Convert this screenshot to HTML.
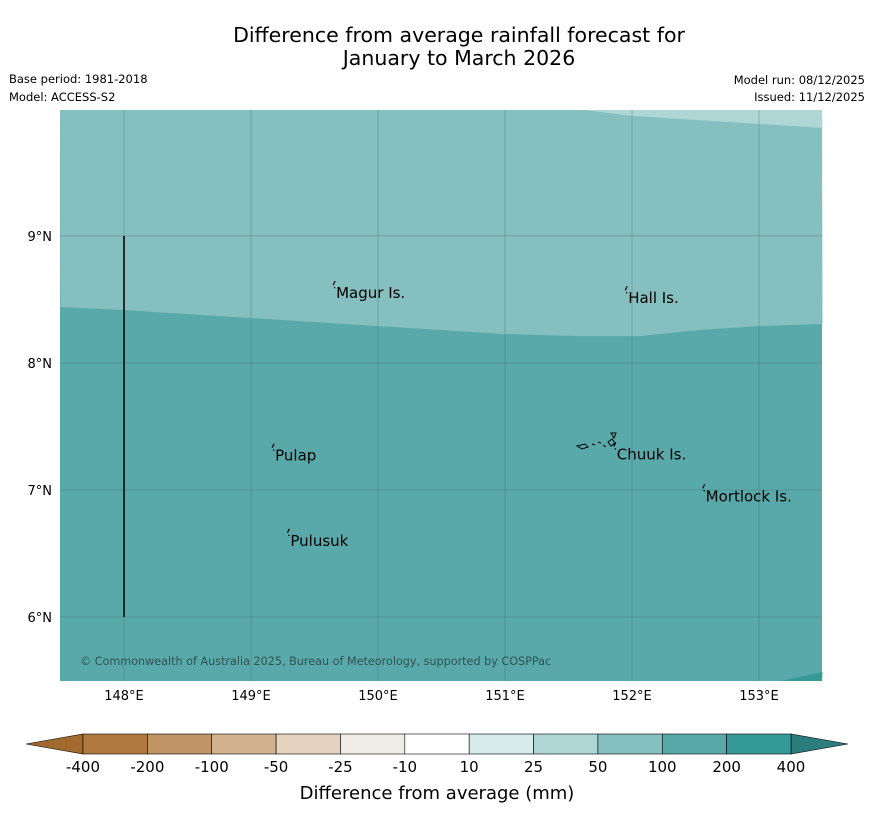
<!DOCTYPE html>
<html><head><meta charset="utf-8"><style>
body{margin:0;background:#fff;width:873px;height:816px;overflow:hidden;font-family:"Liberation Sans","DejaVu Sans",sans-serif}
svg text{font-family:"DejaVu Sans","Liberation Sans",sans-serif}
</style></head><body>
<svg id="chart" width="873" height="816" xmlns="http://www.w3.org/2000/svg">
<text x="459" y="42" font-size="20.5" text-anchor="middle">Difference from average rainfall forecast for</text>
<text x="459" y="65" font-size="20.5" text-anchor="middle">January to March 2026</text>
<text x="9" y="83" font-size="11.5">Base period: 1981-2018</text>
<text x="9" y="101" font-size="11.5">Model: ACCESS-S2</text>
<text x="865" y="84" font-size="11.5" text-anchor="end">Model run: 08/12/2025</text>
<text x="865" y="101" font-size="11.5" text-anchor="end">Issued: 11/12/2025</text>
<g id="map"></g>
<g id="cbar"></g>
<text x="437" y="799" font-size="18" text-anchor="middle">Difference from average (mm)</text>
</svg>
<script>
const lonTicks=[148,149,150,151,152,153];
const latTicks=[9,8,7,6];
const lonRange=[147.496,153.496];
const latRange=[5.496,9.992];
const boundary50_100=[[147.5,8.441],[148,8.417],[148.99,8.354],[149.99,8.291],[150.99,8.228],[151.59,8.212],[152.06,8.212],[152.53,8.26],[153.01,8.291],[153.5,8.307]];
const boundary25_50=[[151.63,9.992],[152.0,9.945],[153.01,9.882],[153.5,9.85]];
const boundary200_400=[[153.17,5.496],[153.5,5.567]];
const places=["Magur Is.","Hall Is.","Pulap","Chuuk Is.","Mortlock Is.","Pulusuk"];
const placeLon=[149.67,151.97,149.19,151.88,152.58,149.31];
const placeLat=[8.55,8.51,7.27,7.28,6.95,6.60];
const levels=["-400","-200","-100","-50","-25","-10","10","25","50","100","200","400"];
const colors=["#a36a2f","#b07a3f","#c09466","#d3b38f","#e5d2bf","#f0ede6","#ffffff","#d6ecea","#add6d5","#86bfbf","#5aa9aa","#359a97","#2b7e7b"];
const NS="http://www.w3.org/2000/svg";
const X0=60,X1=822,Y0=110,Y1=681;
const xs=lon=>X0+(lon-lonRange[0])/(lonRange[1]-lonRange[0])*(X1-X0);
const ys=lat=>Y1-(lat-latRange[0])/(latRange[1]-latRange[0])*(Y1-Y0);
function mk(tag,attrs,parent){const e=document.createElementNS(NS,tag);for(const k in attrs)e.setAttribute(k,attrs[k]);parent.appendChild(e);return e;}
const map=document.getElementById('map');
let r=mk('rect',{x:X0,y:Y0,width:X1-X0,height:Y1-Y0,fill:colors[10]},map);


const pts=a=>a.map(p=>xs(p[0]).toFixed(1)+','+ys(p[1]).toFixed(1)).join(' ');
let p1=mk('polygon',{points:X0+','+Y0+' '+pts(boundary50_100)+' '+X1+','+Y0,fill:colors[9]},map);


let p2=mk('polygon',{points:pts(boundary25_50)+' '+X1+','+Y0,fill:colors[8]},map);


let p3=mk('polygon',{points:pts(boundary200_400)+' '+X1+','+Y1,fill:colors[11]},map);


lonTicks.forEach(l=>{
 let g=mk('line',{x1:xs(l),x2:xs(l),y1:Y0,y2:Y1,stroke:'#3d5e5e','stroke-width':0.6,'stroke-opacity':0.5},map);
 
 
 let t=mk('text',{x:xs(l),y:700,'font-size':13,'text-anchor':'middle'},map);t.textContent=l+'°E';
 
 
});
latTicks.forEach(l=>{
 let g=mk('line',{x1:X0,x2:X1,y1:ys(l),y2:ys(l),stroke:'#3d5e5e','stroke-width':0.6,'stroke-opacity':0.5},map);
 
 
 let t=mk('text',{x:52,y:ys(l)+5,'font-size':13,'text-anchor':'end'},map);t.textContent=l+'°N';
 
 
});
let vl=mk('line',{x1:xs(148),x2:xs(148),y1:ys(9),y2:ys(6),stroke:'#000','stroke-width':1.5},map);


places.forEach((n,i)=>{
 let x=xs(placeLon[i]),y=ys(placeLat[i]);
 let m=mk('path',{d:`M${x-3},${y-8} l2,-4 M${x-2},${y-6} l1,1`,stroke:'#000','stroke-width':1.2,fill:'none'},map);
 
 
 let t=mk('text',{x:x,y:y+5,'font-size':15},map);t.textContent=n;
 
 
});
let ch=mk('path',{d:'M577,446 l8,-2 l3,3 -6,2z M592,444 l3,1 M598,442 l3,1 M603,445 l3,2 M608,442 l4,-3 l3,4 -4,3z M611,433 l5,0 -2,5z',stroke:'#000','stroke-width':1,fill:'none'},map);


let cp=mk('text',{x:80,y:665,'font-size':11.2,fill:'#2f5252'},map);cp.textContent='© Commonwealth of Australia 2025, Bureau of Meteorology, supported by COSPPac';


const cb=document.getElementById('cbar');
const CX0=83,CX1=791,CY0=734,CY1=754,n=levels.length-1,w=(CX1-CX0)/n;
let lt=mk('polygon',{points:`26,744 ${CX0},${CY0} ${CX0},${CY1}`,fill:colors[0],stroke:'#000','stroke-width':0.6},cb);


let rt=mk('polygon',{points:`848,744 ${CX1},${CY0} ${CX1},${CY1}`,fill:colors[12],stroke:'#000','stroke-width':0.6},cb);


for(let i=0;i<n;i++){
 let b=mk('rect',{x:CX0+i*w,y:CY0,width:w,height:CY1-CY0,fill:colors[i+1],stroke:'#000','stroke-width':0.6},cb);
 
 
}
levels.forEach((l,i)=>{
 let t=mk('text',{x:CX0+i*w,y:772,'font-size':15,'text-anchor':'middle'},cb);t.textContent=l;
 
 
});
</script>
</body></html>
